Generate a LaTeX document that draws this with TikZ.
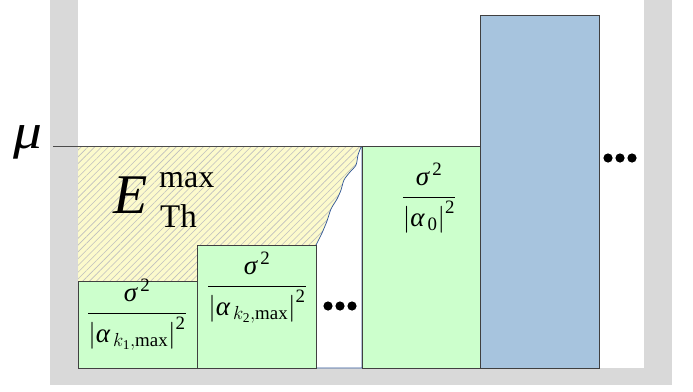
\RequirePackage{fix-cm}
\documentclass[tikz,border=0pt]{standalone}
\usepackage{amsmath}
\usepackage{fontspec}
\setmainfont{Liberation Serif}
\usepackage{tikz}
\usetikzlibrary{patterns.meta}
\definecolor{wallgray}{HTML}{D9D9D9}
\definecolor{binfill}{HTML}{CCFFCC}
\definecolor{tallfill}{HTML}{A7C4DE}
\definecolor{hatchfill}{HTML}{FCFACC}
\definecolor{edgeblue}{HTML}{2F5597}
\newcommand{\wave}{(361,147) (358,155) (356,165) (350,172) (344,180) (341,190) (337,199) (331,209) (327,221) (322,233) (316,245)}
\newcommand{\gk}[1]{\text{\itshape #1}}
\newcommand{\binlevel}[1]{\dfrac{\gk{σ}^{\,\text{2}}}{\left|#1\right|^{\text{2}}}}
\begin{document}
\begin{tikzpicture}[x=1pt,y=-1pt,
  bin/.style={draw=black!75,fill=binfill,line width=0.8pt},
  frac/.style={inner sep=0pt,anchor=base,font=\fontsize{27}{31}\selectfont},
  dot/.style={fill=black}]
  \useasboundingbox (0,0) rectangle (693,391);
  \fill[wallgray] (50,0) rectangle (672,385);
  \fill[white] (78,0) rectangle (644,368);
  \path[preaction={fill=hatchfill},pattern={Lines[angle=45,distance=4.8pt,line width=0.6pt]},pattern color=black!25]
    (78,146) -- plot[smooth] coordinates {\wave} -- (197,245) -- (197,281) -- (78,281) -- cycle;
  \draw[edgeblue,line width=0.7pt] plot[smooth] coordinates {\wave} -- (316,368) -- (362,368) -- (362,146);
  \draw[bin] (78,281) rectangle (197,368);
  \draw[bin] (197,245) rectangle (316,368);
  \draw[bin] (362,146) rectangle (480,368);
  \draw[draw=black!75,fill=tallfill,line width=0.8pt] (480,15) rectangle (599,368);
  \draw[black!70,line width=0.8pt] (53,146) -- (362,146);
  \node[anchor=base,inner sep=0pt] (mu) at (28,148)
    {\fontsize{50}{54}\selectfont\scalebox{1.15}[1]{\textit{μ}}};
  \node[anchor=base west,inner sep=0pt] (eth) at (113,213)
    {\fontsize{56}{60}\selectfont\textit{E}};
  \node[anchor=base west,inner sep=0pt] (emax) at (159,187) {\fontsize{32}{36}\selectfont max};
  \node[anchor=base west,inner sep=0pt] (eth2) at (160,227) {\fontsize{33}{36}\selectfont Th};
  \node[frac] (f1) at (137,320) {$\binlevel{\gk{α}_{\,k_{\text{1}},\text{max}}}$};
  \node[frac] (f2) at (257,293) {$\binlevel{\gk{α}_{\,k_{\text{2}},\text{max}}}$};
  \node[frac] (f0) at (429,204) {$\binlevel{\gk{α}_{\,\text{0}}}$};
  \foreach \i in {0,1,2} {
    \fill[dot] (328+12*\i,306) circle (4.6);
    \fill[dot] (608+12*\i,158) circle (4.6);
  }
\end{tikzpicture}
\end{document}
